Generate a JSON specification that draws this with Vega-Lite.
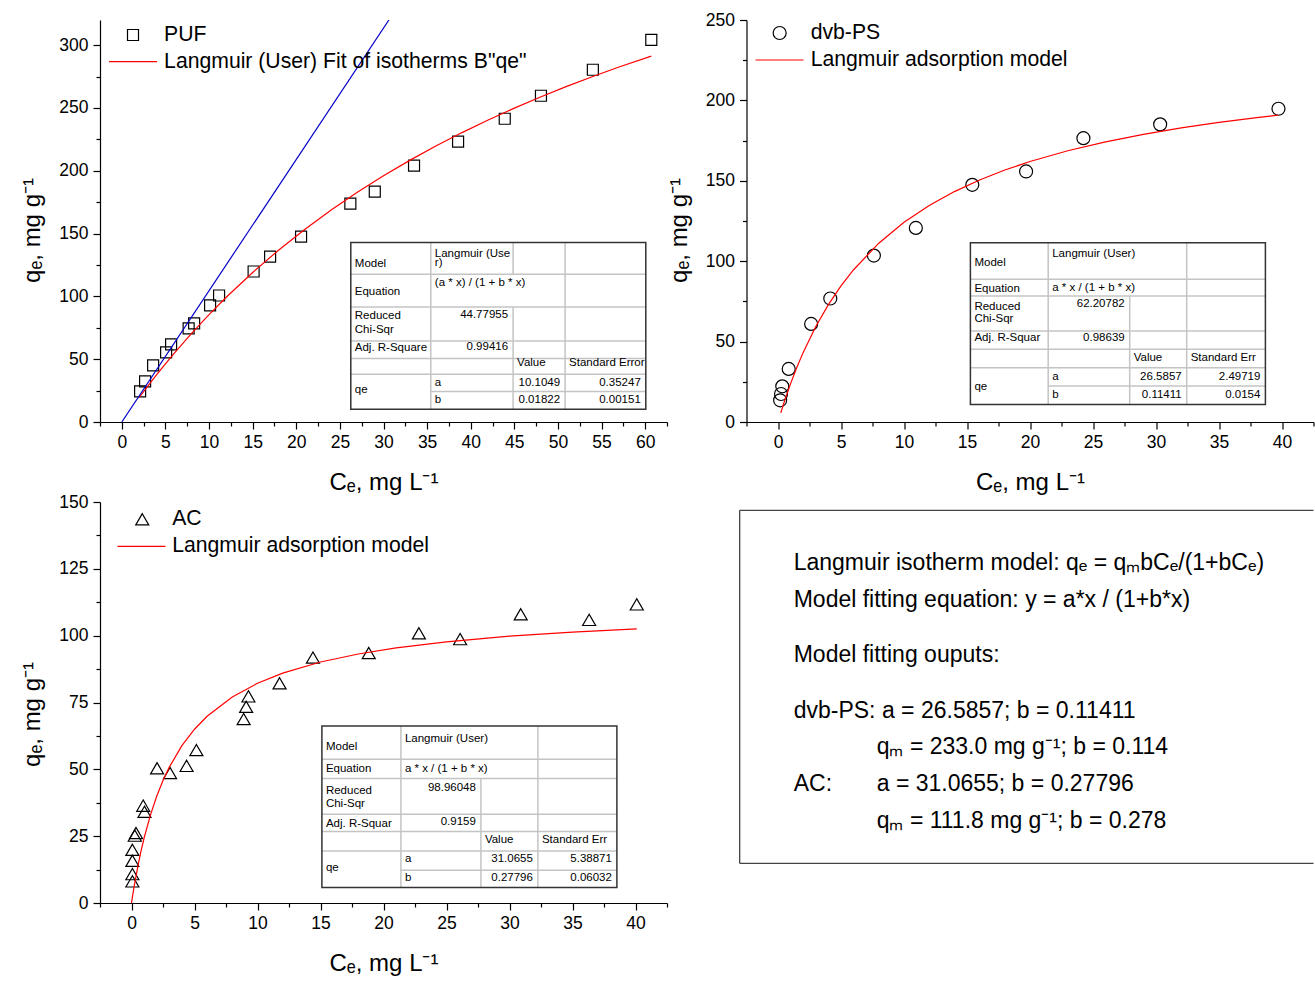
{
  "$schema": "https://vega.github.io/schema/vega-lite/v6.json",
  "background": "white",
  "padding": {"left": 20, "top": 11, "right": 0, "bottom": 0},
  "bounds": "flush",
  "columns": 2,
  "spacing": {"row": 80, "column": 79.5},
  "config": {
    "view": {"stroke": null},
    "font": "Liberation Sans",
    "axis": {"grid": false, "domainColor": "black", "tickColor": "black", "labelColor": "black", "titleColor": "black", "labelFont": "Liberation Sans", "labelFontSize": 17.5, "titleFont": "Liberation Sans", "titleFontSize": 24, "titleFontWeight": "normal", "domainWidth": 1.2, "tickWidth": 1.2, "labelFlush": false, "labelOverlap": false},
    "legend": {"labelFont": "Liberation Sans", "labelFontSize": 21.2, "labelColor": "black", "labelLimit": 1000, "padding": 0, "orient": "none", "symbolStrokeWidth": 1.2}
  },
  "resolve": {"scale": {"color": "independent", "shape": "independent"}, "legend": {"color": "independent", "shape": "independent"}},
  "datasets": {
    "puf": [{"x":2.10,"y":24.4},{"x":2.67,"y":32.4},{"x":3.59,"y":45.1},{"x":5.08,"y":55.4},{"x":5.65,"y":61.8},{"x":7.66,"y":74.5},{"x":8.29,"y":78.5},{"x":10.12,"y":92.8},{"x":11.15,"y":100.7},{"x":15.11,"y":119.8},{"x":17.0,"y":131.7},{"x":20.55,"y":147.6},{"x":26.2,"y":173.8},{"x":29.0,"y":183.4},{"x":33.5,"y":204.1},{"x":38.55,"y":223.2},{"x":43.9,"y":241.4},{"x":48.05,"y":259.7},{"x":54.0,"y":280.4},{"x":60.7,"y":304.2}],
    "puf_fit": [{"x":2,"y":19.50},{"x":3,"y":28.74},{"x":4,"y":37.67},{"x":5,"y":46.30},{"x":6,"y":54.65},{"x":8,"y":70.56},{"x":10,"y":85.48},{"x":12,"y":99.50},{"x":15,"y":119.04},{"x":18,"y":136.97},{"x":21,"y":153.48},{"x":24,"y":168.73},{"x":27,"y":182.87},{"x":30,"y":196.01},{"x":33,"y":208.25},{"x":36,"y":219.68},{"x":39,"y":230.38},{"x":42,"y":240.43},{"x":45,"y":249.86},{"x":48,"y":258.75},{"x":51,"y":267.13},{"x":54,"y":275.05},{"x":57,"y":282.55},{"x":60.7,"y":291.25}],
    "puf_lin": [{"x":0,"y":0},{"x":30.62,"y":320}],
    "dvb": [{"x":0.17,"y":13.5},{"x":0.24,"y":17.4},{"x":0.34,"y":22.2},{"x":0.85,"y":33.0},{"x":2.63,"y":61.0},{"x":4.15,"y":76.8},{"x":7.61,"y":103.5},{"x":10.94,"y":120.7},{"x":15.42,"y":147.5},{"x":19.69,"y":155.8},{"x":24.24,"y":176.5},{"x":30.33,"y":185.1},{"x":39.72,"y":194.8}],
    "dvb_fit": [{"x":0.22,"y":5.71},{"x":0.5,"y":12.58},{"x":1,"y":23.86},{"x":1.5,"y":34.05},{"x":2,"y":43.29},{"x":3,"y":59.42},{"x":4,"y":73.02},{"x":5,"y":84.64},{"x":6,"y":94.69},{"x":8,"y":111.19},{"x":10,"y":124.17},{"x":12,"y":134.65},{"x":14,"y":143.29},{"x":16,"y":150.53},{"x":18,"y":156.69},{"x":20,"y":162.00},{"x":23,"y":168.70},{"x":26,"y":174.25},{"x":29,"y":178.92},{"x":32,"y":182.90},{"x":35,"y":186.33},{"x":38,"y":189.32},{"x":39.7,"y":190.85}],
    "ac": [{"x":0.07,"y":8.1},{"x":0.07,"y":10.8},{"x":0.07,"y":15.8},{"x":0.07,"y":19.9},{"x":0.26,"y":25.2},{"x":0.36,"y":26.2},{"x":1.03,"y":34.1},{"x":0.93,"y":36.4},{"x":2.03,"y":50.4},{"x":3.06,"y":48.6},{"x":4.37,"y":51.3},{"x":5.15,"y":57.2},{"x":8.90,"y":68.8},{"x":9.10,"y":73.4},{"x":9.28,"y":77.3},{"x":11.75,"y":82.2},{"x":14.40,"y":91.8},{"x":18.83,"y":93.5},{"x":22.81,"y":100.9},{"x":26.08,"y":98.7},{"x":30.89,"y":108.0},{"x":36.32,"y":105.9},{"x":40.1,"y":111.7}],
    "ac_fit": [{"x":0,"y":0},{"x":0.1,"y":3.02},{"x":0.25,"y":7.26},{"x":0.5,"y":13.64},{"x":0.75,"y":19.28},{"x":1,"y":24.31},{"x":1.5,"y":32.89},{"x":2,"y":39.93},{"x":2.5,"y":45.82},{"x":3,"y":50.82},{"x":4,"y":58.84},{"x":5,"y":65.00},{"x":6,"y":69.87},{"x":8,"y":77.09},{"x":10,"y":82.19},{"x":12,"y":85.98},{"x":15,"y":90.14},{"x":18,"y":93.15},{"x":21,"y":95.42},{"x":25,"y":97.70},{"x":30,"y":99.80},{"x":35,"y":101.35},{"x":40.1,"y":102.56}],
    "grid1": [{"c1":0,"c2":4,"r1":1,"r2":1},{"c1":0,"c2":4,"r1":2,"r2":2},{"c1":0,"c2":4,"r1":3,"r2":3},{"c1":0,"c2":4,"r1":4,"r2":4},{"c1":0,"c2":4,"r1":5,"r2":5},{"c1":1,"c2":4,"r1":6,"r2":6},{"c1":1,"c2":1,"r1":0,"r2":7},{"c1":2,"c2":2,"r1":0,"r2":1},{"c1":2,"c2":2,"r1":2,"r2":7},{"c1":3,"c2":3,"r1":0,"r2":7}],
    "grid23": [{"c1":0,"c2":4,"r1":1,"r2":1},{"c1":0,"c2":4,"r1":2,"r2":2},{"c1":0,"c2":4,"r1":3,"r2":3},{"c1":0,"c2":4,"r1":4,"r2":4},{"c1":0,"c2":4,"r1":5,"r2":5},{"c1":1,"c2":4,"r1":6,"r2":6},{"c1":1,"c2":1,"r1":0,"r2":7},{"c1":2,"c2":2,"r1":2,"r2":7},{"c1":3,"c2":3,"r1":0,"r2":7}],
    "tab1": [{"t":"Model","c":0,"r":0.68,"k":"label"},{"t":"Langmuir (Use","c":1,"r":0.35,"k":"label"},{"t":"r)","c":1,"r":0.65,"k":"label"},{"t":"Equation","c":0,"r":1.54,"k":"label"},{"t":"(a * x) / (1 + b * x)","c":1,"r":1.26,"k":"label"},{"t":"Reduced","c":0,"r":2.26,"k":"label"},{"t":"Chi-Sqr","c":0,"r":2.68,"k":"label"},{"t":"Adj. R-Square","c":0,"r":3.38,"k":"label"},{"t":"Value","c":2,"r":4.29,"k":"label"},{"t":"Standard Error","c":3,"r":4.29,"k":"label"},{"t":"a","c":1,"r":5.48,"k":"label"},{"t":"b","c":1,"r":6.47,"k":"label"},{"t":"qe","c":0,"r":5.92,"k":"label"},{"t":"44.77955","c":2,"r":2.24,"k":"num"},{"t":"0.99416","c":2,"r":3.34,"k":"num"},{"t":"10.1049","c":3,"r":5.48,"k":"num"},{"t":"0.35247","c":4,"r":5.48,"k":"num"},{"t":"0.01822","c":3,"r":6.47,"k":"num"},{"t":"0.00151","c":4,"r":6.47,"k":"num"}],
    "tab2": [{"t":"Model","c":0,"r":0.56,"k":"label"},{"t":"Langmuir (User)","c":1,"r":0.3,"k":"label"},{"t":"Equation","c":0,"r":1.6,"k":"label"},{"t":"a * x / (1 + b * x)","c":1,"r":1.55,"k":"label"},{"t":"Reduced","c":0,"r":2.31,"k":"label"},{"t":"Chi-Sqr","c":0,"r":2.67,"k":"label"},{"t":"Adj. R-Squar","c":0,"r":3.4,"k":"label"},{"t":"Value","c":2,"r":4.46,"k":"label"},{"t":"Standard Err","c":3,"r":4.46,"k":"label"},{"t":"a","c":1,"r":5.49,"k":"label"},{"t":"b","c":1,"r":6.46,"k":"label"},{"t":"qe","c":0,"r":6.05,"k":"label"},{"t":"62.20782","c":2,"r":2.22,"k":"num"},{"t":"0.98639","c":2,"r":3.36,"k":"num"},{"t":"26.5857","c":3,"r":5.49,"k":"num"},{"t":"2.49719","c":4,"r":5.49,"k":"num"},{"t":"0.11411","c":3,"r":6.46,"k":"num"},{"t":"0.0154","c":4,"r":6.46,"k":"num"}],
    "tab3": [{"t":"Model","c":0,"r":0.62,"k":"label"},{"t":"Langmuir (User)","c":1,"r":0.4,"k":"label"},{"t":"Equation","c":0,"r":1.52,"k":"label"},{"t":"a * x / (1 + b * x)","c":1,"r":1.48,"k":"label"},{"t":"Reduced","c":0,"r":2.35,"k":"label"},{"t":"Chi-Sqr","c":0,"r":2.72,"k":"label"},{"t":"Adj. R-Squar","c":0,"r":3.58,"k":"label"},{"t":"Value","c":2,"r":4.43,"k":"label"},{"t":"Standard Err","c":3,"r":4.43,"k":"label"},{"t":"a","c":1,"r":5.43,"k":"label"},{"t":"b","c":1,"r":6.46,"k":"label"},{"t":"qe","c":0,"r":5.86,"k":"label"},{"t":"98.96048","c":2,"r":2.25,"k":"num"},{"t":"0.9159","c":2,"r":3.45,"k":"num"},{"t":"31.0655","c":3,"r":5.43,"k":"num"},{"t":"5.38871","c":4,"r":5.43,"k":"num"},{"t":"0.27796","c":3,"r":6.46,"k":"num"},{"t":"0.06032","c":4,"r":6.46,"k":"num"}],
    "notes": [{"line":1,"indent":0,"t":"Langmuir isotherm model: qₑ = qₘbCₑ/(1+bCₑ)"},{"line":2,"indent":0,"t":"Model fitting equation: y = a*x / (1+b*x)"},{"line":3.5,"indent":0,"t":"Model fitting ouputs:"},{"line":5,"indent":0,"t":"dvb-PS: a = 26.5857; b = 0.11411"},{"line":6,"indent":1,"t":"qₘ = 233.0 mg g⁻¹; b = 0.114"},{"line":7,"indent":0,"t":"AC:"},{"line":7,"indent":1,"t":"a = 31.0655; b = 0.27796"},{"line":8,"indent":1,"t":"qₘ = 111.8 mg g⁻¹; b = 0.278"}]
  },
  "concat": [
    {
      "width": 567, "height": 402,
      "layer": [
        {"data": {"name": "puf"}, "mark": {"type": "point", "filled": false, "stroke": "black", "strokeWidth": 1.2, "size": 121, "opacity": 1},
         "encoding": {
           "x": {"field": "x", "type": "quantitative", "scale": {"domain": [-2.5, 62.5], "nice": false, "zero": false},
                 "axis": {"values": [-2.5,0,2.5,5,7.5,10,12.5,15,17.5,20,22.5,25,27.5,30,32.5,35,37.5,40,42.5,45,47.5,50,52.5,55,57.5,60,62.5], "labelExpr": "datum.value >= 0 && datum.value % 5 === 0 ? '' + datum.value : ''", "tickSize": {"expr": "datum.value % 5 === 0 ? 7 : 4"}, "title": "Cₑ, mg L⁻¹", "titlePadding": 20, "labelPadding": 4}},
           "y": {"field": "y", "type": "quantitative", "scale": {"domain": [0, 320], "nice": false, "zero": false},
                 "axis": {"values": [0,25,50,75,100,125,150,175,200,225,250,275,300], "labelExpr": "datum.value % 50 === 0 ? '' + datum.value : ''", "tickSize": {"expr": "datum.value % 50 === 0 ? 7 : 4"}, "title": "qₑ, mg g⁻¹", "titlePadding": 14, "titleY": 210, "labelPadding": 5}},
           "shape": {"datum": "PUF", "type": "nominal", "scale": {"domain": ["PUF"], "range": ["square"]},
                     "legend": {"title": null, "orient": "none", "legendX": 22.4, "legendY": 4.4, "symbolSize": 121, "symbolStrokeColor": "black", "symbolFillColor": "transparent", "labelOffset": 20.5}}
         }},
        {"data": {"name": "puf_fit"}, "mark": {"type": "line", "strokeWidth": 1.2, "clip": true},
         "encoding": {
           "x": {"field": "x", "type": "quantitative", "scale": {"domain": [-2.5, 62.5], "nice": false, "zero": false}, "axis": null},
           "y": {"field": "y", "type": "quantitative", "scale": {"domain": [0, 320], "nice": false, "zero": false}, "axis": null},
           "color": {"datum": "Langmuir (User) Fit of isotherms B\"qe\"", "type": "nominal", "scale": {"domain": ["Langmuir (User) Fit of isotherms B\"qe\""], "range": ["#ff0000"]},
                     "legend": {"title": null, "orient": "none", "legendX": 8, "legendY": 16.6, "symbolType": "stroke", "symbolSize": 2304, "labelOffset": 6.1}}
         }},
        {"data": {"name": "puf_lin"}, "mark": {"type": "line", "color": "#0000c8", "strokeWidth": 1.2, "clip": true},
         "encoding": {"x": {"field": "x", "type": "quantitative", "scale": {"domain": [-2.5, 62.5], "nice": false, "zero": false}, "axis": null}, "y": {"field": "y", "type": "quantitative", "scale": {"domain": [0, 320], "nice": false, "zero": false}, "axis": null}}},
        {"data": {"name": "grid1"}, "mark": {"type": "rule", "color": "#c4c4c4", "strokeWidth": 1.5},
         "encoding": {
           "x": {"field": "c1", "type": "quantitative", "scale": {"domain": [0,1,2,3,4], "range": [250.8,330.8,413.1,465.1,545.8], "zero": false, "nice": false}, "axis": null},
           "x2": {"field": "c2"},
           "y": {"field": "r1", "type": "quantitative", "scale": {"domain": [0,1,2,3,4,5,6,7], "range": [222.6,254.2,286.9,320.9,338.6,354.2,371.6,389.2], "zero": false, "nice": false}, "axis": null},
           "y2": {"field": "r2"}
         }},
        {"data": {"values": [{}]}, "mark": {"type": "rect", "fill": null, "fillOpacity": 0, "stroke": "#333333", "strokeWidth": 1.5},
         "encoding": {
           "x": {"datum": 0, "type": "quantitative", "scale": {"domain": [0,1,2,3,4], "range": [250.8,330.8,413.1,465.1,545.8], "zero": false, "nice": false}, "axis": null},
           "x2": {"datum": 4},
           "y": {"datum": 0, "type": "quantitative", "scale": {"domain": [0,1,2,3,4,5,6,7], "range": [222.6,254.2,286.9,320.9,338.6,354.2,371.6,389.2], "zero": false, "nice": false}, "axis": null},
           "y2": {"datum": 7}
         }},
        {"data": {"name": "tab1"}, "transform": [{"filter": "datum.k === 'label'"}], "mark": {"type": "text", "align": "left", "baseline": "middle", "dx": 4, "fontSize": 11.5, "font": "Liberation Sans", "color": "black"},
         "encoding": {
           "x": {"field": "c", "type": "quantitative", "scale": {"domain": [0,1,2,3,4], "range": [250.8,330.8,413.1,465.1,545.8], "zero": false, "nice": false}, "axis": null},
           "y": {"field": "r", "type": "quantitative", "scale": {"domain": [0,1,2,3,4,5,6,7], "range": [222.6,254.2,286.9,320.9,338.6,354.2,371.6,389.2], "zero": false, "nice": false}, "axis": null},
           "text": {"field": "t"}
         }},
        {"data": {"name": "tab1"}, "transform": [{"filter": "datum.k === 'num'"}], "mark": {"type": "text", "align": "right", "baseline": "middle", "dx": -5, "fontSize": 11.5, "font": "Liberation Sans", "color": "black"},
         "encoding": {
           "x": {"field": "c", "type": "quantitative", "scale": {"domain": [0,1,2,3,4], "range": [250.8,330.8,413.1,465.1,545.8], "zero": false, "nice": false}, "axis": null},
           "y": {"field": "r", "type": "quantitative", "scale": {"domain": [0,1,2,3,4,5,6,7], "range": [222.6,254.2,286.9,320.9,338.6,354.2,371.6,389.2], "zero": false, "nice": false}, "axis": null},
           "text": {"field": "t"}
         }}
      ],
      "resolve": {"scale": {"x": "independent", "y": "independent"}, "axis": {"x": "independent", "y": "independent"}}
    },
    {
      "width": 567, "height": 402,
      "layer": [
        {"data": {"name": "dvb"}, "mark": {"type": "point", "filled": false, "stroke": "black", "strokeWidth": 1.2, "size": 169, "opacity": 1},
         "encoding": {
           "x": {"field": "x", "type": "quantitative", "scale": {"domain": [-2.5, 42.5], "nice": false, "zero": false},
                 "axis": {"values": [-2.5,0,2.5,5,7.5,10,12.5,15,17.5,20,22.5,25,27.5,30,32.5,35,37.5,40,42.5], "labelExpr": "datum.value >= 0 && datum.value % 5 === 0 ? '' + datum.value : ''", "tickSize": {"expr": "datum.value % 5 === 0 ? 7 : 4"}, "title": "Cₑ, mg L⁻¹", "titlePadding": 20, "labelPadding": 4}},
           "y": {"field": "y", "type": "quantitative", "scale": {"domain": [0, 250], "nice": false, "zero": false},
                 "axis": {"values": [0,25,50,75,100,125,150,175,200,225,250], "labelExpr": "datum.value % 50 === 0 ? '' + datum.value : ''", "tickSize": {"expr": "datum.value % 50 === 0 ? 7 : 4"}, "title": "qₑ, mg g⁻¹", "titlePadding": 14, "titleY": 210, "labelPadding": 5}},
           "shape": {"datum": "dvb-PS", "type": "nominal", "scale": {"domain": ["dvb-PS"], "range": ["circle"]},
                     "legend": {"title": null, "orient": "none", "legendX": 22.55, "legendY": 2.4, "symbolSize": 169, "symbolStrokeColor": "black", "symbolFillColor": "transparent", "labelOffset": 20.45}}
         }},
        {"data": {"name": "dvb_fit"}, "mark": {"type": "line", "strokeWidth": 1.2, "clip": true},
         "encoding": {
           "x": {"field": "x", "type": "quantitative", "scale": {"domain": [-2.5, 42.5], "nice": false, "zero": false}, "axis": null},
           "y": {"field": "y", "type": "quantitative", "scale": {"domain": [0, 250], "nice": false, "zero": false}, "axis": null},
           "color": {"datum": "Langmuir adsorption model", "type": "nominal", "scale": {"domain": ["Langmuir adsorption model"], "range": ["#ff0000"]},
                     "legend": {"title": null, "orient": "none", "legendX": 8, "legendY": 15, "symbolType": "stroke", "symbolSize": 2304, "labelOffset": 6.2}}
         }},
        {"data": {"name": "grid23"}, "mark": {"type": "rule", "color": "#c4c4c4", "strokeWidth": 1.5},
         "encoding": {
           "x": {"field": "c1", "type": "quantitative", "scale": {"domain": [0,1,2,3,4], "range": [223.9,301.7,383.2,440.2,518.9], "zero": false, "nice": false}, "axis": null},
           "x2": {"field": "c2"},
           "y": {"field": "r1", "type": "quantitative", "scale": {"domain": [0,1,2,3,4,5,6,7], "range": [222.7,259.3,276,311,329.3,347.7,366,384.5], "zero": false, "nice": false}, "axis": null},
           "y2": {"field": "r2"}
         }},
        {"data": {"values": [{}]}, "mark": {"type": "rect", "fill": null, "fillOpacity": 0, "stroke": "#333333", "strokeWidth": 1.5},
         "encoding": {
           "x": {"datum": 0, "type": "quantitative", "scale": {"domain": [0,1,2,3,4], "range": [223.9,301.7,383.2,440.2,518.9], "zero": false, "nice": false}, "axis": null},
           "x2": {"datum": 4},
           "y": {"datum": 0, "type": "quantitative", "scale": {"domain": [0,1,2,3,4,5,6,7], "range": [222.7,259.3,276,311,329.3,347.7,366,384.5], "zero": false, "nice": false}, "axis": null},
           "y2": {"datum": 7}
         }},
        {"data": {"name": "tab2"}, "transform": [{"filter": "datum.k === 'label'"}], "mark": {"type": "text", "align": "left", "baseline": "middle", "dx": 4, "fontSize": 11.5, "font": "Liberation Sans", "color": "black"},
         "encoding": {
           "x": {"field": "c", "type": "quantitative", "scale": {"domain": [0,1,2,3,4], "range": [223.9,301.7,383.2,440.2,518.9], "zero": false, "nice": false}, "axis": null},
           "y": {"field": "r", "type": "quantitative", "scale": {"domain": [0,1,2,3,4,5,6,7], "range": [222.7,259.3,276,311,329.3,347.7,366,384.5], "zero": false, "nice": false}, "axis": null},
           "text": {"field": "t"}
         }},
        {"data": {"name": "tab2"}, "transform": [{"filter": "datum.k === 'num'"}], "mark": {"type": "text", "align": "right", "baseline": "middle", "dx": -5, "fontSize": 11.5, "font": "Liberation Sans", "color": "black"},
         "encoding": {
           "x": {"field": "c", "type": "quantitative", "scale": {"domain": [0,1,2,3,4], "range": [223.9,301.7,383.2,440.2,518.9], "zero": false, "nice": false}, "axis": null},
           "y": {"field": "r", "type": "quantitative", "scale": {"domain": [0,1,2,3,4,5,6,7], "range": [222.7,259.3,276,311,329.3,347.7,366,384.5], "zero": false, "nice": false}, "axis": null},
           "text": {"field": "t"}
         }}
      ],
      "resolve": {"scale": {"x": "independent", "y": "independent"}, "axis": {"x": "independent", "y": "independent"}}
    },
    {
      "width": 567, "height": 401,
      "layer": [
        {"data": {"name": "ac"}, "mark": {"type": "point", "filled": false, "stroke": "black", "strokeWidth": 1.2, "size": 169, "opacity": 1},
         "encoding": {
           "x": {"field": "x", "type": "quantitative", "scale": {"domain": [-2.5, 42.5], "nice": false, "zero": false},
                 "axis": {"values": [-2.5,0,2.5,5,7.5,10,12.5,15,17.5,20,22.5,25,27.5,30,32.5,35,37.5,40,42.5], "labelExpr": "datum.value >= 0 && datum.value % 5 === 0 ? '' + datum.value : ''", "tickSize": {"expr": "datum.value % 5 === 0 ? 7 : 4"}, "title": "Cₑ, mg L⁻¹", "titlePadding": 20, "labelPadding": 4}},
           "y": {"field": "y", "type": "quantitative", "scale": {"domain": [0, 150], "nice": false, "zero": false},
                 "axis": {"values": [0,12.5,25,37.5,50,62.5,75,87.5,100,112.5,125,137.5,150], "labelExpr": "datum.value % 25 === 0 ? '' + datum.value : ''", "tickSize": {"expr": "datum.value % 25 === 0 ? 7 : 4"}, "title": "qₑ, mg g⁻¹", "titlePadding": 14, "titleY": 212, "labelPadding": 5}},
           "shape": {"datum": "AC", "type": "nominal", "scale": {"domain": ["AC"], "range": ["triangle-up"]},
                     "legend": {"title": null, "orient": "none", "legendX": 31.65, "legendY": 6.65, "symbolSize": 169, "symbolStrokeColor": "black", "symbolFillColor": "transparent", "labelOffset": 19.35}}
         }},
        {"data": {"name": "ac_fit"}, "mark": {"type": "line", "strokeWidth": 1.2, "clip": true},
         "encoding": {
           "x": {"field": "x", "type": "quantitative", "scale": {"domain": [-2.5, 42.5], "nice": false, "zero": false}, "axis": null},
           "y": {"field": "y", "type": "quantitative", "scale": {"domain": [0, 150], "nice": false, "zero": false}, "axis": null},
           "color": {"datum": "Langmuir adsorption model", "type": "nominal", "scale": {"domain": ["Langmuir adsorption model"], "range": ["#ff0000"]},
                     "legend": {"title": null, "orient": "none", "legendX": 16.5, "legendY": 19.3, "symbolType": "stroke", "symbolSize": 2304, "labelOffset": 5.7}}
         }},
        {"data": {"name": "grid23"}, "mark": {"type": "rule", "color": "#c4c4c4", "strokeWidth": 1.5},
         "encoding": {
           "x": {"field": "c1", "type": "quantitative", "scale": {"domain": [0,1,2,3,4], "range": [221.9,300.9,380.9,437.9,516.9], "zero": false, "nice": false}, "axis": null},
           "x2": {"field": "c2"},
           "y": {"field": "r1", "type": "quantitative", "scale": {"domain": [0,1,2,3,4,5,6,7], "range": [224,257.3,276.6,312.3,329.6,349,368.3,385.6], "zero": false, "nice": false}, "axis": null},
           "y2": {"field": "r2"}
         }},
        {"data": {"values": [{}]}, "mark": {"type": "rect", "fill": null, "fillOpacity": 0, "stroke": "#333333", "strokeWidth": 1.5},
         "encoding": {
           "x": {"datum": 0, "type": "quantitative", "scale": {"domain": [0,1,2,3,4], "range": [221.9,300.9,380.9,437.9,516.9], "zero": false, "nice": false}, "axis": null},
           "x2": {"datum": 4},
           "y": {"datum": 0, "type": "quantitative", "scale": {"domain": [0,1,2,3,4,5,6,7], "range": [224,257.3,276.6,312.3,329.6,349,368.3,385.6], "zero": false, "nice": false}, "axis": null},
           "y2": {"datum": 7}
         }},
        {"data": {"name": "tab3"}, "transform": [{"filter": "datum.k === 'label'"}], "mark": {"type": "text", "align": "left", "baseline": "middle", "dx": 4, "fontSize": 11.5, "font": "Liberation Sans", "color": "black"},
         "encoding": {
           "x": {"field": "c", "type": "quantitative", "scale": {"domain": [0,1,2,3,4], "range": [221.9,300.9,380.9,437.9,516.9], "zero": false, "nice": false}, "axis": null},
           "y": {"field": "r", "type": "quantitative", "scale": {"domain": [0,1,2,3,4,5,6,7], "range": [224,257.3,276.6,312.3,329.6,349,368.3,385.6], "zero": false, "nice": false}, "axis": null},
           "text": {"field": "t"}
         }},
        {"data": {"name": "tab3"}, "transform": [{"filter": "datum.k === 'num'"}], "mark": {"type": "text", "align": "right", "baseline": "middle", "dx": -5, "fontSize": 11.5, "font": "Liberation Sans", "color": "black"},
         "encoding": {
           "x": {"field": "c", "type": "quantitative", "scale": {"domain": [0,1,2,3,4], "range": [221.9,300.9,380.9,437.9,516.9], "zero": false, "nice": false}, "axis": null},
           "y": {"field": "r", "type": "quantitative", "scale": {"domain": [0,1,2,3,4,5,6,7], "range": [224,257.3,276.6,312.3,329.6,349,368.3,385.6], "zero": false, "nice": false}, "axis": null},
           "text": {"field": "t"}
         }}
      ],
      "resolve": {"scale": {"x": "independent", "y": "independent"}, "axis": {"x": "independent", "y": "independent"}}
    },
    {
      "width": 567, "height": 401,
      "layer": [
        {"data": {"values": [{}]}, "mark": {"type": "rule", "color": "#444444", "strokeWidth": 1.3},
         "encoding": {
           "x": {"datum": -0.651, "type": "quantitative", "scale": {"domain": [0, 1], "range": [47.2, 130.2], "zero": false, "nice": false}, "axis": null},
           "x2": {"datum": 6.263},
           "y": {"datum": -0.631, "type": "quantitative", "scale": {"domain": [0, 10], "range": [31.55, 399.75], "zero": false, "nice": false}, "axis": null}
         }},
        {"data": {"values": [{}]}, "mark": {"type": "rule", "color": "#444444", "strokeWidth": 1.3},
         "encoding": {
           "x": {"datum": -0.651, "type": "quantitative", "scale": {"domain": [0, 1], "range": [47.2, 130.2], "zero": false, "nice": false}, "axis": null},
           "x2": {"datum": 6.263},
           "y": {"datum": 8.956, "type": "quantitative", "scale": {"domain": [0, 10], "range": [31.55, 399.75], "zero": false, "nice": false}, "axis": null}
         }},
        {"data": {"values": [{}]}, "mark": {"type": "rule", "color": "#444444", "strokeWidth": 1.3},
         "encoding": {
           "x": {"datum": -0.651, "type": "quantitative", "scale": {"domain": [0, 1], "range": [47.2, 130.2], "zero": false, "nice": false}, "axis": null},
           "y": {"datum": -0.631, "type": "quantitative", "scale": {"domain": [0, 10], "range": [31.55, 399.75], "zero": false, "nice": false}, "axis": null},
           "y2": {"datum": 8.956}
         }},
        {"data": {"name": "notes"}, "mark": {"type": "text", "align": "left", "baseline": "alphabetic", "fontSize": 23, "font": "Liberation Sans", "color": "black"},
         "encoding": {
           "x": {"field": "indent", "type": "quantitative", "scale": {"domain": [0, 1], "range": [47.2, 130.2], "zero": false, "nice": false}, "axis": null},
           "y": {"field": "line", "type": "quantitative", "scale": {"domain": [0, 10], "range": [31.55, 399.75], "zero": false, "nice": false}, "axis": null},
           "text": {"field": "t"}
         }}
      ]
    }
  ]
}
